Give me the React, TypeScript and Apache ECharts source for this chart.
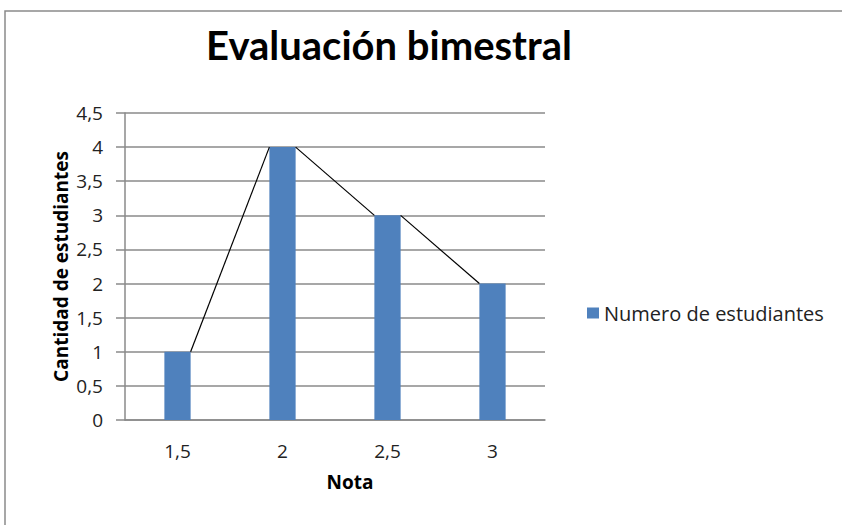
import React, { useEffect, useRef } from "react";
import * as echarts from "echarts";

const categories = ["1,5", "2", "2,5", "3"];
const studentCounts = [1, 4, 3, 2];
const seriesName = "Numero de estudiantes";
const titleText = "Evaluación bimestral";
const xAxisName = "Nota";
const yAxisName = "Cantidad de estudiantes";

const BAR_RATIO = 0.25;
const FONT = "'Open Sans', 'Noto Sans', sans-serif";

export default function App() {
  const ref = useRef<HTMLDivElement>(null);
  useEffect(() => {
    if (!ref.current) return;
    const chart = echarts.init(ref.current, undefined, { renderer: "svg" });
    const segData = studentCounts.slice(0, -1).map((v, i) => [i, v, studentCounts[i + 1]]);
    chart.setOption({
      animation: false,
      backgroundColor: "#ffffff",
      textStyle: { fontFamily: FONT },
      graphic: [
        {
          type: "rect",
          shape: { x: 5, y: 11, width: 900, height: 600 },
          style: { fill: "none", stroke: "#8a8a8a", lineWidth: 1.5 },
          silent: true,
          z: -10,
        },
      ],
      title: {
        text: titleText,
        left: 384,
        top: 20,
        textAlign: "center",
        textStyle: { fontFamily: "Lato, sans-serif", fontWeight: "bold", fontSize: 40, color: "#000" },
      },
      legend: {
        data: [seriesName],
        left: 582,
        top: 298,
        icon: "rect",
        itemWidth: 12,
        itemHeight: 11,
        itemGap: 6,
        textStyle: { fontFamily: FONT, fontSize: 20, color: "#222" },
      },
      grid: { left: 125, right: 297, top: 113, bottom: 105 },
      xAxis: {
        type: "category",
        data: categories,
        name: xAxisName,
        nameLocation: "middle",
        nameGap: 52,
        nameTextStyle: { fontFamily: FONT, fontWeight: "bold", fontSize: 19, color: "#000", padding: [0, 0, 0, 30] },
        axisLine: { lineStyle: { color: "#8a8a8a", width: 1.5 } },
        axisTick: { show: false },
        axisLabel: { fontFamily: FONT, fontSize: 19, color: "#222", margin: 21 },
      },
      yAxis: {
        type: "value",
        min: 0,
        max: 4.5,
        interval: 0.5,
        name: yAxisName,
        nameLocation: "middle",
        nameGap: 55,
        nameTextStyle: { fontFamily: FONT, fontWeight: "bold", fontSize: 19, color: "#000" },
        axisLine: { show: true, lineStyle: { color: "#8a8a8a", width: 1.5 } },
        axisTick: { show: true, length: 9, lineStyle: { color: "#8a8a8a", width: 1.5 } },
        axisLabel: {
          fontFamily: FONT,
          fontSize: 19,
          color: "#222",
          margin: 22,
          formatter: (v: number) => String(v).replace(".", ","),
        },
        splitLine: { lineStyle: { color: "#8a8a8a", width: 1.5 } },
      },
      series: [
        {
          name: seriesName,
          type: "bar",
          data: studentCounts,
          barWidth: BAR_RATIO * 100 + "%",
          itemStyle: { color: "#4f81bd" },
          z: 2,
        },
        {
          type: "custom",
          data: segData,
          encode: { x: 0, y: 1 },
          z: 3,
          silent: true,
          renderItem: (params: any, api: any) => {
            const i = api.value(0);
            const p1 = api.coord([i, api.value(1)]);
            const p2 = api.coord([i + 1, api.value(2)]);
            const band = api.size([1, 0])[0];
            const half = (band * BAR_RATIO) / 2;
            return {
              type: "line",
              shape: { x1: p1[0] + half, y1: p1[1], x2: p2[0] - half, y2: p2[1] },
              style: { stroke: "#000", lineWidth: 1.2 },
            };
          },
        },
      ],
    });
    return () => chart.dispose();
  }, []);
  return (
    <div
      ref={ref}
      style={{ position: "fixed", left: 0, top: 0, width: 842, height: 525 }}
    />
  );
}
